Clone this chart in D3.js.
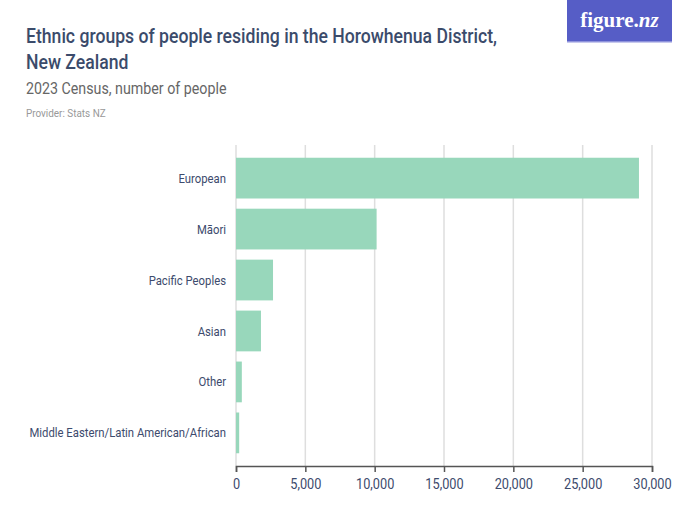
<!DOCTYPE html>
<html>
<head>
<meta charset="utf-8">
<script src="https://cdn.jsdelivr.net/npm/d3@7"></script>
<style>
  body { margin: 0; background: #fff; }
  svg text { font-family: "Roboto", "Liberation Sans", sans-serif; }
</style>
</head>
<body>
<div id="chart"></div>
<script>
// data
var categories = ["European", "Māori", "Pacific Peoples", "Asian", "Other", "Middle Eastern/Latin American/African"];
var people = [29060, 10140, 2670, 1800, 420, 230];
var xTicks = [0, 5000, 10000, 15000, 20000, 25000, 30000];

var W = 700, H = 525;
var svg = d3.select("#chart").append("svg")
  .attr("width", W).attr("height", H);

// no narrow font here, so squeeze the text a bit
function condense(sel, f) {
  sel.each(function() {
    var w = this.getComputedTextLength();
    d3.select(this).attr("textLength", w * f).attr("lengthAdjust", "spacingAndGlyphs");
  });
}

// header
var t1 = svg.append("text").attr("x", 26).attr("y", 43)
  .attr("fill", "#3b4b6b").attr("font-size", 20).attr("font-weight", 500)
  .text("Ethnic groups of people residing in the Horowhenua District,");
var t2 = svg.append("text").attr("x", 26).attr("y", 69)
  .attr("fill", "#3b4b6b").attr("font-size", 20).attr("font-weight", 500)
  .text("New Zealand");
var t3 = svg.append("text").attr("x", 26).attr("y", 94)
  .attr("fill", "#666").attr("font-size", 16)
  .text("2023 Census, number of people");
var t4 = svg.append("text").attr("x", 26).attr("y", 117)
  .attr("fill", "#999").attr("font-size", 11)
  .text("Provider: Stats NZ");
condense(t1, 0.88); condense(t2, 0.88); condense(t3, 0.89); condense(t4, 0.9);

// logo box
var logo = svg.append("g");
logo.append("rect").attr("x", 567).attr("y", 0).attr("width", 105).attr("height", 42).attr("fill", "#565dc6");
logo.append("rect").attr("x", 567).attr("y", 41).attr("width", 105).attr("height", 1.5).attr("fill", "#8f93dc");
var lt = logo.append("text").attr("x", 619.5).attr("y", 27).attr("text-anchor", "middle")
  .attr("fill", "#fff").attr("font-size", 21).attr("font-weight", "bold")
  .style("font-family", "'Liberation Serif', 'DejaVu Serif', serif");
lt.append("tspan").text("figure.");
lt.append("tspan").attr("font-style", "italic").text("nz");

// plot
var x = d3.scaleLinear().domain([0, 30000]).range([236, 652]);
var y = d3.scaleBand().domain(categories).range([145, 466]).paddingInner(0.2).paddingOuter(0.25);

svg.append("g").selectAll("line").data(xTicks).join("line")
  .attr("x1", function(d){ return x(d); }).attr("x2", function(d){ return x(d); })
  .attr("y1", 145).attr("y2", 466)
  .attr("stroke", "#dedede").attr("stroke-width", 1.5);

svg.append("g").selectAll("rect").data(people).join("rect")
  .attr("x", x(0))
  .attr("y", function(d, i){ return y(categories[i]); })
  .attr("width", function(d){ return x(d) - x(0); })
  .attr("height", y.bandwidth())
  .attr("fill", "#98d7bb");

// category labels
var labels = svg.append("g").selectAll("text").data(categories).join("text")
  .attr("x", 226)
  .attr("y", function(d){ return y(d) + y.bandwidth() / 2; })
  .attr("dy", "0.35em")
  .attr("text-anchor", "end")
  .attr("fill", "#3d4b6d").attr("font-size", 13)
  .text(function(d){ return d; });
condense(labels, 0.87);

// x axis
var xAxis = d3.axisBottom(x).tickValues(xTicks).tickSize(6).tickPadding(6)
  .tickFormat(d3.format(","));
var gx = svg.append("g").attr("transform", "translate(0,466)").call(xAxis);
gx.select(".domain").attr("stroke", "#555").attr("stroke-width", 1.5);
gx.selectAll(".tick line").attr("stroke", "#555").attr("stroke-width", 1.5);
var tickText = gx.selectAll(".tick text").attr("fill", "#3d4b6d").attr("font-size", 15)
  .style("font-family", "'Roboto', sans-serif");
condense(tickText, 0.85);
</script>
</body>
</html>
